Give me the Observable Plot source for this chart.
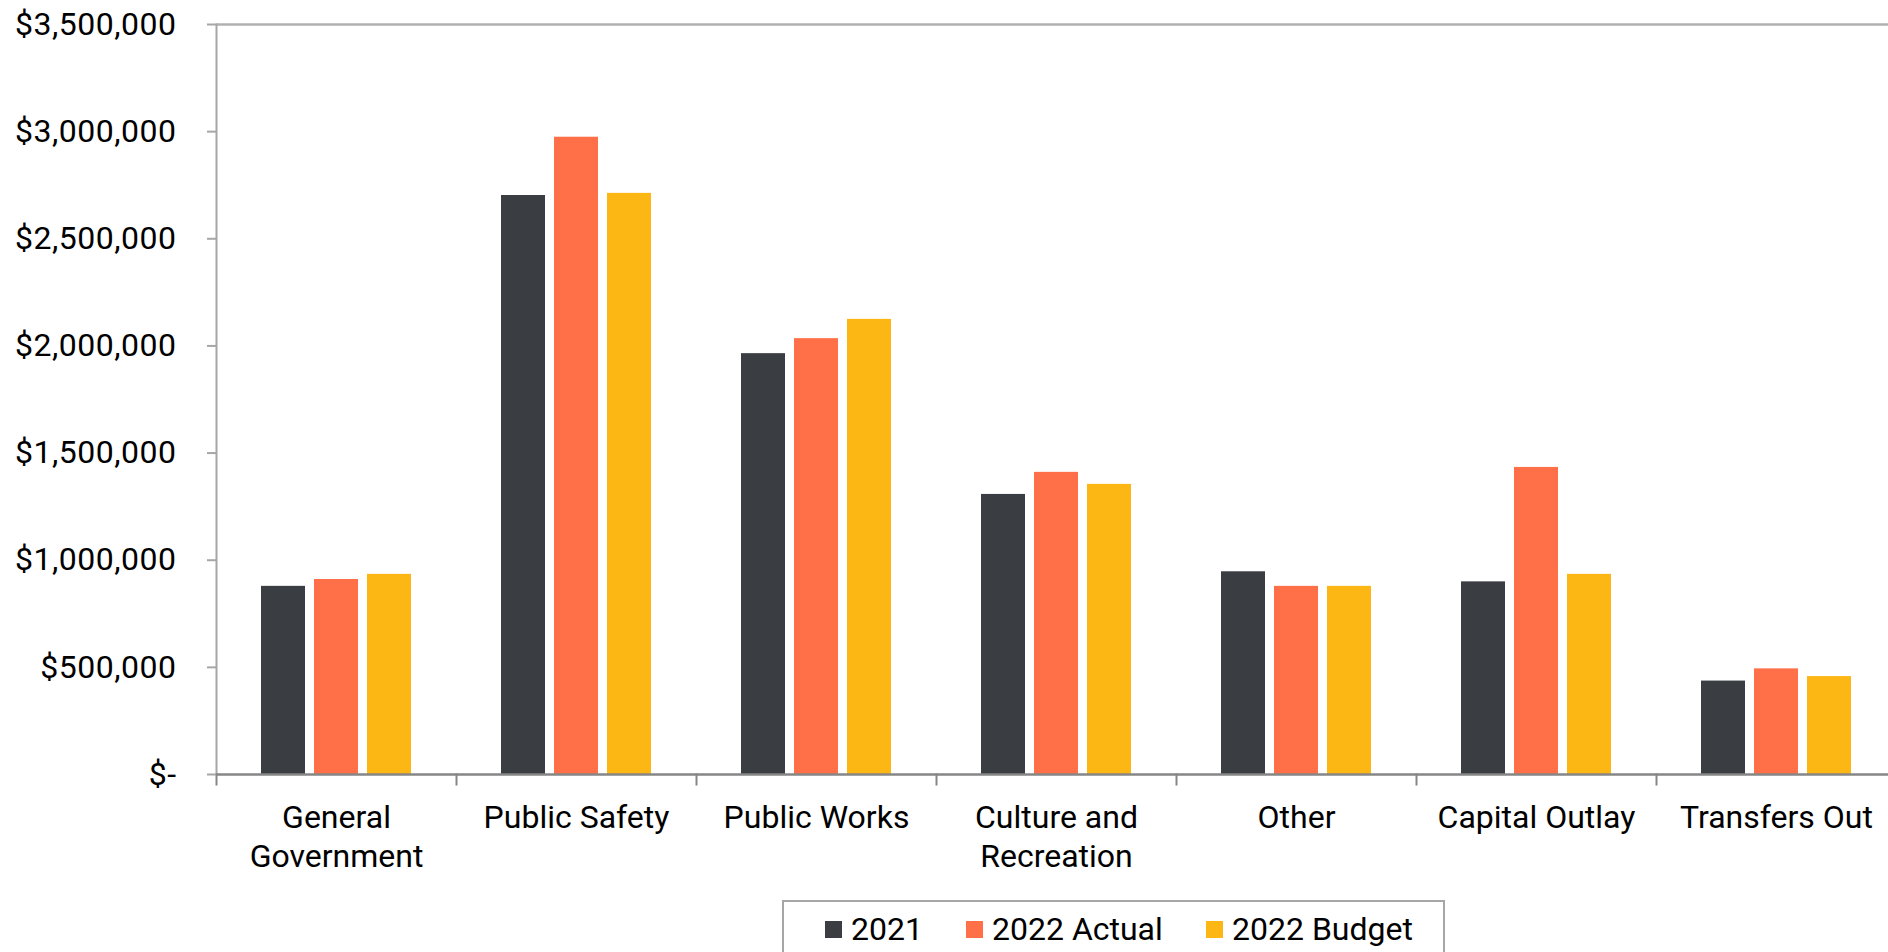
<!DOCTYPE html>
<html>
<head>
<meta charset="utf-8">
<script src="https://cdn.jsdelivr.net/npm/d3@7"></script>
<script src="https://cdn.jsdelivr.net/npm/@observablehq/plot@0.6"></script>
<style>
  html, body { margin: 0; padding: 0; background: #fff; overflow: hidden; width: 1888px; height: 952px; }
  #chart { position: absolute; left: 0; top: 0; }
  #chart g[aria-label="y-axis tick label"] text { letter-spacing: 0.5px; }
  #legend {
    position: absolute; left: 782px; top: 900px; width: 663px; height: 80px;
    box-sizing: border-box; border: 2px solid #a6a6a6; background: #fff;
    padding: 7px 0 0 41px; display: flex; align-items: flex-start;
    font-family: Roboto, "Noto Sans", sans-serif; font-size: 32px; color: #000;
  }
  #legend .item { display: inline-flex; align-items: center; line-height: 40px; white-space: nowrap; flex: none; }
  #legend .sw { display: inline-block; width: 17px; height: 17px; margin-right: 9px; }
</style>
</head>
<body>
<div id="chart"></div>
<div id="legend"></div>
<script>
const categories = ["General Government", "Public Safety", "Public Works", "Culture and Recreation", "Other", "Capital Outlay", "Transfers Out"];
const categoryLabels = ["General\nGovernment", "Public Safety", "Public Works", "Culture and\nRecreation", "Other", "Capital Outlay", "Transfers Out"];
const series = ["2021", "2022 Actual", "2022 Budget"];
const values2021 = [878000, 2702000, 1964000, 1307000, 946000, 899000, 436000];
const values2022Actual = [910000, 2974000, 2034000, 1410000, 878000, 1433000, 493000];
const values2022Budget = [934000, 2712000, 2124000, 1354000, 878000, 934000, 457000];
const colors = ["#3a3e42", "#ff7049", "#fdb714"];
const yTicks = [0, 500000, 1000000, 1500000, 2000000, 2500000, 3000000, 3500000];
const legendWidths = [141, 240, null];

const seriesValues = [values2021, values2022Actual, values2022Budget];
const rows = categories.flatMap((c, i) => series.map((s, j) => ({category: c, series: s, value: seriesValues[j][i]})));
const labelOf = new Map(categories.map((c, i) => [c, categoryLabels[i]]));

const fmt = d3.format(",");
const W = 1898, H = 890, mT = 24, mB = 116, mL = 214, mR = 0;
const plotH = H - mT - mB;

const chart = Plot.plot({
  width: W,
  height: H,
  marginTop: mT,
  marginBottom: mB,
  marginLeft: mL,
  marginRight: mR,
  style: {maxWidth: "none", fontFamily: "Roboto, 'Noto Sans', sans-serif", fontSize: "32px", color: "#000", background: "#fff", overflow: "visible"},
  fx: {domain: categories, padding: 0, axis: null},
  x: {domain: series, paddingInner: 0.178, paddingOuter: 0.839, axis: null},
  y: {domain: [0, 3500000], axis: null},
  color: {domain: series, range: colors},
  marks: [
    Plot.barY(rows, {fx: "category", x: "series", y: "value", fill: "series"}),
    Plot.ruleY([3500000], {stroke: "#b0b0b0", strokeWidth: 2.5}),
    Plot.frame({anchor: "left", facetAnchor: "left", stroke: "#a6a6a6", strokeWidth: 2}),
    Plot.frame({anchor: "left", insetTop: plotH, insetBottom: -10, stroke: "#868686", strokeWidth: 2}),
    Plot.ruleY([0], {stroke: "#868686", strokeWidth: 2.5}),
    Plot.axisY({
      ticks: yTicks,
      tickSize: 9,
      tickPadding: 31,
      stroke: "#a6a6a6",
      strokeWidth: 2,
      fill: "#000",
      fontSize: 32,
      tickFormat: d => d === 0 ? "$-" : "$" + fmt(d),
      label: null
    }),
    Plot.axisFx({
      anchor: "bottom",
      tickSize: 0,
      tickPadding: 26,
      fontSize: 32,
      fill: "#000",
      lineHeight: 1.22,
      tickFormat: d => labelOf.get(d),
      label: null
    })
  ]
});
document.getElementById("chart").appendChild(chart);

const legend = document.getElementById("legend");
series.forEach((s, i) => {
  const item = document.createElement("span");
  item.className = "item";
  if (legendWidths[i]) item.style.width = legendWidths[i] + "px";
  const sw = document.createElement("span");
  sw.className = "sw";
  sw.style.background = colors[i];
  item.appendChild(sw);
  item.appendChild(document.createTextNode(s));
  legend.appendChild(item);
});
</script>
</body>
</html>
